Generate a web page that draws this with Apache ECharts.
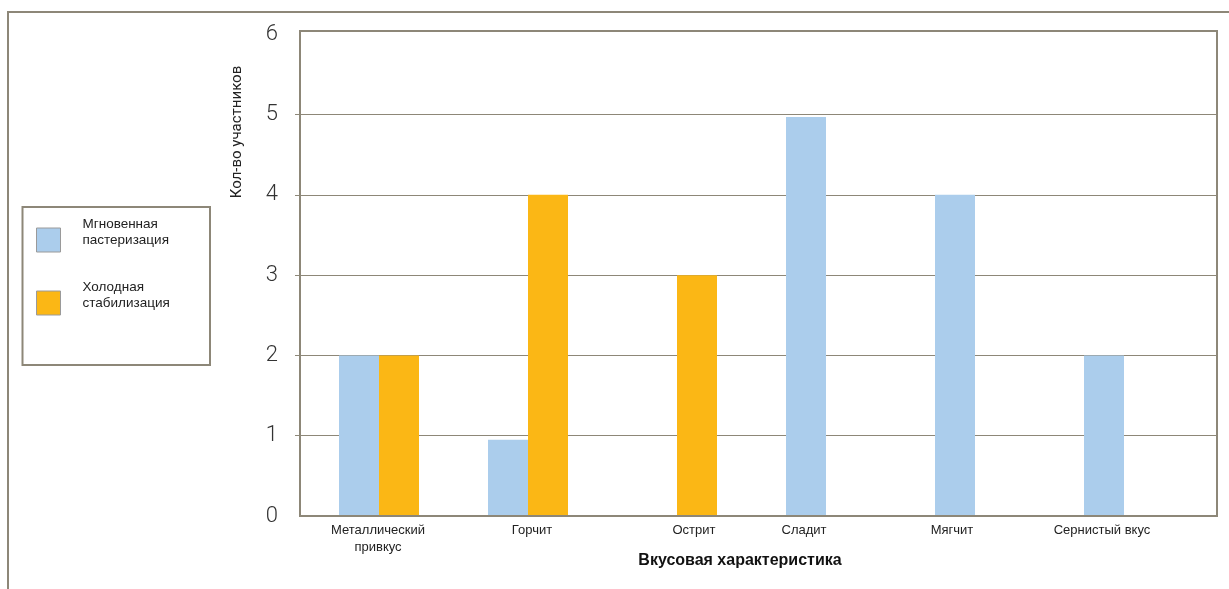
<!DOCTYPE html>
<html>
<head>
<meta charset="utf-8">
<script src="https://cdn.jsdelivr.net/npm/echarts@6/dist/echarts.min.js"></script>
<style>
html,body{margin:0;padding:0;background:#fff;}
#c{width:1229px;height:589px;}
</style>
</head>
<body>
<div id="c"></div>
<script>
// ---- data ----
const categories = ['Металлический привкус', 'Горчит', 'Острит', 'Сладит', 'Мягчит', 'Сернистый вкус'];
const seriesNames = ['Мгновенная пастеризация', 'Холодная стабилизация'];
const flashPast = [2, 0.95, 0, 4.97, 4, 2];
const coldStab = [2, 4, 3, 0, 0, 0];
const yTicks = [0, 1, 2, 3, 4, 5, 6];
const yAxisTitle = 'Кол-во участников';
const xAxisTitle = 'Вкусовая характеристика';

// ---- styling ----
const frameColor = '#8d8778';
const blue = '#abcdec';
const orange = '#fbb715';
// per-label horizontal nudges (px) to match label placement of the reference
const labelShift = [-1, 4, 17, -22, -23, -22];

const chart = echarts.init(document.getElementById('c'));

const gTop = 34.3, gBottom = 73;

function wrapLabel(name) {
  // two lines plus an empty third line so the text sits above the swatch centre
  return name.replace(' ', '\n') + '\n ';
}

const option = {
  animation: false,
  backgroundColor: '#fff',
  textStyle: { fontFamily: 'Liberation Sans, Arial, sans-serif' },
  grid: [
    { left: 300, right: 12, top: 31, bottom: gBottom, show: true, borderColor: frameColor, borderWidth: 2, backgroundColor: 'transparent', z: 3 },
    { left: 295, right: 12, top: gTop, bottom: gBottom },
    { left: 304.5, right: 30.5, top: gTop, bottom: gBottom }
  ],
  xAxis: [
    { gridIndex: 0, type: 'value', show: false },
    { gridIndex: 1, type: 'value', show: false },
    {
      gridIndex: 2, type: 'category',
      data: categories.map((c, i) => ({
        value: c,
        textStyle: {
          padding: labelShift[i] >= 0 ? [0, 0, 0, labelShift[i] * 2] : [0, -labelShift[i] * 2, 0, 0]
        }
      })),
      axisLine: { show: false },
      axisTick: { show: false },
      axisLabel: {
        interval: 0, margin: 6,
        fontSize: 13, color: '#222', lineHeight: 17,
        fontFamily: 'Liberation Sans, Arial, sans-serif',
        formatter: (v) => v === 'Металлический привкус' ? 'Металлический\nпривкус' : v
      }
    }
  ],
  yAxis: [
    { gridIndex: 0, type: 'value', show: false, min: 0, max: 1 },
    {
      gridIndex: 1, type: 'value', min: yTicks[0], max: yTicks[yTicks.length - 1], interval: 1,
      axisLine: { show: false },
      axisTick: { show: false },
      splitLine: { show: true, showMinLine: false, showMaxLine: false, lineStyle: { color: frameColor, width: 1 } },
      axisLabel: {
        margin: 17, fontSize: 22, color: '#333',
        fontFamily: 'Roboto, sans-serif', fontWeight: 300
      }
    },
    { gridIndex: 2, type: 'value', show: false, min: 0, max: 6 }
  ],
  legend: {
    orient: 'vertical',
    left: 36, top: 216,
    padding: 0,
    icon: 'rect',
    itemWidth: 24, itemHeight: 24, itemGap: 15,
    itemStyle: { borderColor: '#9a9a9a', borderWidth: 1 },
    selectedMode: false,
    formatter: wrapLabel,
    textStyle: {
      fontSize: 13.5, color: '#222', lineHeight: 16,
      fontFamily: 'Liberation Sans, Arial, sans-serif',
      padding: [0, 0, 0, 17]
    },
    data: seriesNames
  },
  graphic: [
    { type: 'rect', silent: true, shape: { x: 8, y: 12, width: 1400, height: 800 }, style: { fill: 'none', stroke: frameColor, lineWidth: 2 }, z: -1 },
    { type: 'rect', silent: true, shape: { x: 22.5, y: 207, width: 187.5, height: 158 }, style: { fill: '#fff', stroke: frameColor, lineWidth: 2 }, z: -1 },
    { type: 'text', silent: true, x: 237, y: 132, rotation: Math.PI / 2,
      style: { text: yAxisTitle, align: 'center', verticalAlign: 'middle', fontSize: 15, fill: '#222', fontFamily: 'Roboto, sans-serif', fontWeight: 400 } },
    { type: 'text', silent: true, x: 740, y: 561,
      style: { text: xAxisTitle, align: 'center', verticalAlign: 'middle', fontSize: 16, fontWeight: 'bold', fill: '#111', fontFamily: 'Liberation Sans, Arial, sans-serif' } }
  ],
  series: [
    { name: seriesNames[0], type: 'bar', xAxisIndex: 2, yAxisIndex: 2, data: flashPast, barWidth: 40, barGap: '0%', itemStyle: { color: blue } },
    { name: seriesNames[1], type: 'bar', xAxisIndex: 2, yAxisIndex: 2, data: coldStab, barWidth: 40, barGap: '0%', itemStyle: { color: orange } }
  ]
};
chart.setOption(option);
</script>
</body>
</html>
